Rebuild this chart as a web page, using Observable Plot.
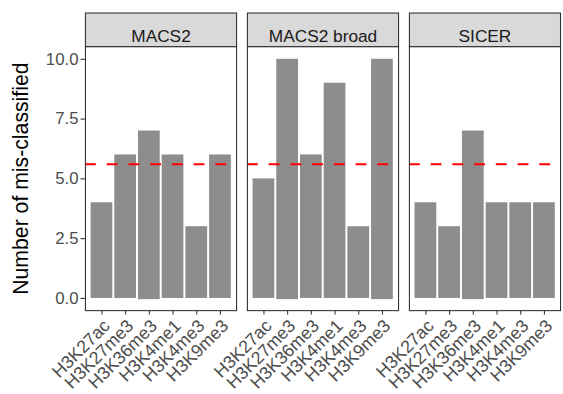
<!DOCTYPE html>
<html>
<head>
<meta charset="utf-8">
<script src="https://cdn.jsdelivr.net/npm/d3@7"></script>
<script src="https://cdn.jsdelivr.net/npm/@observablehq/plot@0.6"></script>
<style>
  html, body { margin: 0; padding: 0; background: #fff; overflow: hidden; }
  #chart svg { display: block; }
</style>
</head>
<body>
<div id="chart"></div>
<script>
const methods = ["MACS2", "MACS2 broad", "SICER"];
const marks = ["H3K27ac", "H3K27me3", "H3K36me3", "H3K4me1", "H3K4me3", "H3K9me3"];
const macs2 = [4, 6, 7, 6, 3, 6];
const macs2Broad = [5, 10, 6, 9, 3, 10];
const sicer = [4, 3, 7, 4, 4, 4];
// slight negative bar bases seen in the picture
const macs2Base = [0, 0, -0.05, 0, 0, 0];
const macs2BroadBase = [0, -0.05, 0, 0, 0, -0.05];
const sicerBase = [0, 0, -0.05, 0, 0, 0];
const yTicks = [0, 2.5, 5, 7.5, 10];
const yTickLabels = ["0.0", "2.5", "5.0", "7.5", "10.0"];

const series = [[macs2, macs2Base], [macs2Broad, macs2BroadBase], [sicer, sicerBase]];
const data = [];
methods.forEach((m, i) => {
  marks.forEach((k, j) => {
    data.push({method: m, mark: k, value: series[i][0][j], base: series[i][1][j]});
  });
});
const meanValue = d3.mean(data, d => d.value);

const W = 570, H = 394;
const mt = 46.7, mb = 80, ml = 85.3, mr = 1.8;
const innerH = H - mt - mb;

const font = "'Liberation Sans', Arial, sans-serif";

const chart = Plot.plot({
  width: W,
  height: H,
  marginTop: mt,
  marginBottom: mb,
  marginLeft: ml,
  marginRight: mr,
  style: {fontFamily: font, background: "#fff"},
  fx: {domain: methods, paddingInner: 0.065, paddingOuter: 0, axis: null},
  x: {domain: marks, paddingInner: 0.1, paddingOuter: 0.15, align: 0.5},
  y: {domain: [-0.51, 10.53]},
  marks: [
    Plot.barY(data, {fx: "method", x: "mark", y1: "base", y2: "value", fill: "#8d8d8d"}),
    Plot.ruleY([meanValue], {stroke: "#ff0000", strokeWidth: 2.1, strokeDasharray: "11,11"}),
    Plot.frame({stroke: "#333333", strokeWidth: 1.1}),
    Plot.frame({stroke: "#333333", strokeWidth: 1.1, fill: "#d9d9d9", insetTop: -34, insetBottom: innerH}),
    Plot.text(methods, {fx: d => d, text: d => d, frameAnchor: "top", dy: -17, fontSize: 17.5, fill: "#1a1a1a", fontFamily: font}),
    Plot.axisY({ticks: yTicks, tickFormat: (d) => yTickLabels[yTicks.indexOf(d)], tickSize: 4.5, tickPadding: 2.5, fontSize: 17, color: "#4d4d4d", stroke: "#333333", strokeWidth: 1.1, label: null}),
    Plot.axisX({tickSize: 4.5, tickFormat: () => "", stroke: "#333333", strokeWidth: 1.1, label: null}),
    Plot.axisX({tickSize: 0, tickPadding: 6.5, tickRotate: -45, fontSize: 18, color: "#4d4d4d", dx: 5, dy: 6, label: null}),
    Plot.text(["Number of mis-classified"], {text: d => d, frameAnchor: "left", textAnchor: "middle", dx: -65, rotate: -90, fontSize: 21.5, fill: "#000", facetAnchor: "left", fontFamily: font})
  ]
});
document.getElementById("chart").appendChild(chart);
</script>
</body>
</html>
